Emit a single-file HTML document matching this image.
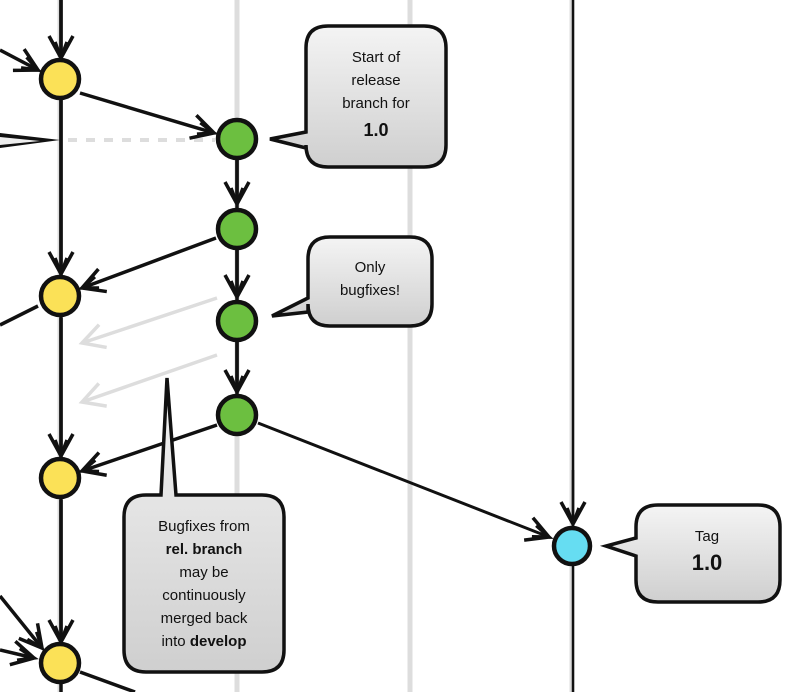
<!DOCTYPE html>
<html><head><meta charset="utf-8"><style>
html,body{margin:0;padding:0;background:#fff;}
svg{display:block}
text{font-family:"Liberation Sans",sans-serif;fill:#111;text-anchor:middle}
</style></head><body>
<svg width="806" height="692" viewBox="0 0 806 692" xmlns="http://www.w3.org/2000/svg">
<defs>
<linearGradient id="g" x1="0" y1="0" x2="0" y2="1">
<stop offset="0" stop-color="#f4f4f4"/><stop offset="1" stop-color="#cfcfcf"/></linearGradient>
<marker id="a" viewBox="-10 -10 40 40" refX="18" refY="10" markerWidth="40" markerHeight="40" markerUnits="userSpaceOnUse" orient="auto" overflow="visible">
<path d="M-4,-2 L18,10 L-4,22 M2,4 L18,10 L2,16" fill="none" stroke="#111" stroke-width="3.5" stroke-linejoin="miter"/></marker>
<marker id="ag" viewBox="-10 -10 40 40" refX="18" refY="10" markerWidth="40" markerHeight="40" markerUnits="userSpaceOnUse" orient="auto" overflow="visible">
<path d="M-4,-2 L18,10 L-4,22" fill="none" stroke="#ddd" stroke-width="3.5"/></marker>
</defs>
<!-- lanes -->
<line x1="60" y1="0" x2="60" y2="692" stroke="#ddd" stroke-width="5"/>
<line x1="237" y1="0" x2="237" y2="692" stroke="#ddd" stroke-width="5"/>
<line x1="410" y1="0" x2="410" y2="692" stroke="#ddd" stroke-width="5"/>
<line x1="572" y1="0" x2="572" y2="692" stroke="#ddd" stroke-width="5"/>
<line x1="61" y1="0" x2="61" y2="692" stroke="#111" stroke-width="3.5"/>
<line x1="573" y1="0" x2="573" y2="692" stroke="#111" stroke-width="2.5"/>
<line x1="237" y1="138" x2="237" y2="415" stroke="#111" stroke-width="3.5"/>
<line x1="68" y1="140" x2="215" y2="140" stroke="#ddd" stroke-width="4" stroke-dasharray="9,9"/>
<path d="M0,133 L60,140 L0,148 Z" fill="#111"/>
<path d="M0,137 L40,141 L0,145 Z" fill="#eee"/>
<line x1="61" y1="0" x2="61" y2="58" stroke="#111" stroke-width="3.5" marker-end="url(#a)"/>
<line x1="0" y1="50" x2="38" y2="70" stroke="#111" stroke-width="3.5" marker-end="url(#a)"/>
<line x1="61" y1="100" x2="61" y2="274" stroke="#111" stroke-width="3.5" marker-end="url(#a)"/>
<line x1="61" y1="318" x2="61" y2="456" stroke="#111" stroke-width="3.5" marker-end="url(#a)"/>
<line x1="61" y1="500" x2="61" y2="642" stroke="#111" stroke-width="3.5" marker-end="url(#a)"/>
<line x1="0" y1="596" x2="42" y2="648" stroke="#111" stroke-width="3.5" marker-end="url(#a)"/>
<line x1="0" y1="650" x2="34" y2="658" stroke="#111" stroke-width="3.5" marker-end="url(#a)"/>
<line x1="0" y1="325" x2="38" y2="306" stroke="#111" stroke-width="3.5"/>
<line x1="80" y1="672" x2="135" y2="692" stroke="#111" stroke-width="3.5"/>
<line x1="80" y1="93" x2="214" y2="133" stroke="#111" stroke-width="3.5" marker-end="url(#a)"/>
<line x1="237" y1="160" x2="237" y2="204" stroke="#111" stroke-width="3.5" marker-end="url(#a)"/>
<line x1="237" y1="250" x2="237" y2="297" stroke="#111" stroke-width="3.5" marker-end="url(#a)"/>
<line x1="237" y1="342" x2="237" y2="392" stroke="#111" stroke-width="3.5" marker-end="url(#a)"/>
<line x1="216" y1="238" x2="82" y2="288" stroke="#111" stroke-width="3.5" marker-end="url(#a)"/>
<line x1="217" y1="425" x2="82" y2="471" stroke="#111" stroke-width="3.5" marker-end="url(#a)"/>
<line x1="217" y1="298" x2="82" y2="343" stroke="#ddd" stroke-width="3.5" marker-end="url(#ag)"/>
<line x1="217" y1="355" x2="82" y2="402" stroke="#ddd" stroke-width="3.5" marker-end="url(#ag)"/>
<line x1="258" y1="423" x2="549" y2="537" stroke="#111" stroke-width="3" marker-end="url(#a)"/>
<line x1="573" y1="470" x2="573" y2="524" stroke="#111" stroke-width="2.5" marker-end="url(#a)"/>
<g stroke="#111" stroke-width="4.5">
<circle cx="60" cy="79" r="19" fill="#fbe157"/>
<circle cx="60" cy="296" r="19" fill="#fbe157"/>
<circle cx="60" cy="478" r="19" fill="#fbe157"/>
<circle cx="60" cy="663" r="19" fill="#fbe157"/>
<circle cx="237" cy="139" r="19" fill="#6cbf40"/>
<circle cx="237" cy="229" r="19" fill="#6cbf40"/>
<circle cx="237" cy="321" r="19" fill="#6cbf40"/>
<circle cx="237" cy="415" r="19" fill="#6cbf40"/>
<circle cx="572" cy="546" r="18" fill="#66ddf2"/>
</g>
<g fill="url(#g)" stroke="#111" stroke-width="3.5">
<path d="M328,26 H424 Q446,26 446,48 V145 Q446,167 424,167 H328 Q306,167 306,145 V148 L270,139 L306,132 V48 Q306,26 328,26 Z"/>
<path d="M330,237 H410 Q432,237 432,259 V304 Q432,326 410,326 H330 Q308,326 308,304 V312 L272,316 L308,298 V259 Q308,237 330,237 Z"/>
<path d="M146,495 H161 L167,378 L176,495 H262 Q284,495 284,517 V650 Q284,672 262,672 H146 Q124,672 124,650 V517 Q124,495 146,495 Z"/>
<path d="M658,505 H758 Q780,505 780,527 V580 Q780,602 758,602 H658 Q636,602 636,580 V556 L606,546 L636,538 V527 Q636,505 658,505 Z"/>
</g>
<text x="376" y="62" font-size="15">Start of</text>
<text x="376" y="85" font-size="15">release</text>
<text x="376" y="108" font-size="15">branch for</text>
<text x="376" y="136" font-size="18" font-weight="bold">1.0</text>
<text x="370" y="272" font-size="15">Only</text>
<text x="370" y="295" font-size="15">bugfixes!</text>
<text x="204" y="531" font-size="15">Bugfixes from</text>
<text x="204" y="554" font-size="15" font-weight="bold">rel. branch</text>
<text x="204" y="577" font-size="15">may be</text>
<text x="204" y="600" font-size="15">continuously</text>
<text x="204" y="623" font-size="15">merged back</text>
<text x="204" y="646" font-size="15">into <tspan font-weight="bold">develop</tspan></text>
<text x="707" y="541" font-size="15">Tag</text>
<text x="707" y="570" font-size="22" font-weight="bold">1.0</text>
</svg>
</body></html>
